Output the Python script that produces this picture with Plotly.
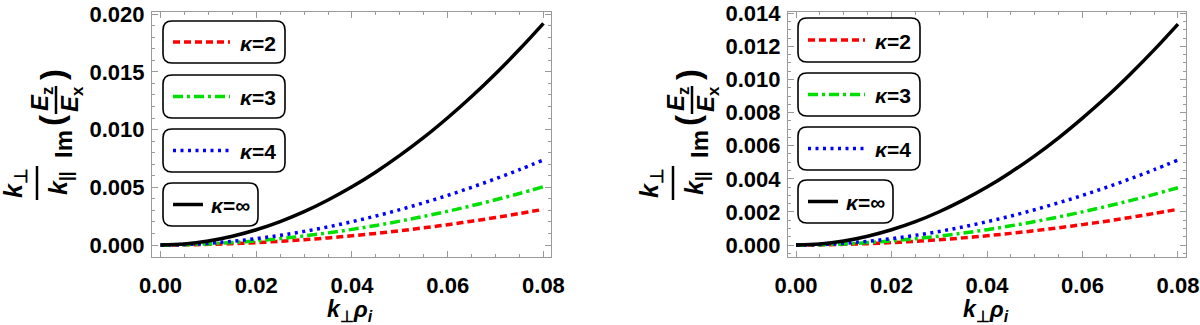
import plotly.graph_objects as go
from plotly.subplots import make_subplots

# ---------------------------------------------------------------------------
# Données
# ---------------------------------------------------------------------------
k_rho = [0.0, 0.005, 0.01, 0.015, 0.02, 0.025, 0.03, 0.035, 0.04,
         0.045, 0.05, 0.055, 0.06, 0.065, 0.07, 0.075, 0.08]

# panneau gauche
left_k2 = [0, 0.000014, 0.000054, 0.000118, 0.000207, 0.00032, 0.000456, 0.000616, 0.0008,
           0.001006, 0.001236, 0.001488, 0.001763, 0.002061, 0.002382, 0.002725, 0.00309]
left_k3 = [0, 0.000026, 0.000097, 0.00021, 0.000362, 0.000554, 0.000783, 0.00105, 0.001353,
           0.001692, 0.002068, 0.002478, 0.002923, 0.003404, 0.003918, 0.004467, 0.00505]
left_k4 = [0, 0.000041, 0.000151, 0.000322, 0.000552, 0.000837, 0.001178, 0.00157, 0.002017,
           0.002513, 0.00306, 0.00366, 0.0043, 0.005, 0.00574, 0.00653, 0.00737]
left_kinf = [0, 0.00009, 0.00035, 0.00076, 0.00132, 0.00203, 0.00289, 0.0039, 0.00504,
             0.00633, 0.00776, 0.00932, 0.01103, 0.01287, 0.01485, 0.01696, 0.01921]

# panneau droit
right_k2 = [0, 0.00001, 0.000038, 0.000082, 0.000145, 0.000224, 0.000319, 0.000431, 0.000559,
            0.000703, 0.000864, 0.00104, 0.001232, 0.001441, 0.001665, 0.001905, 0.00216]
right_k3 = [0, 0.000018, 0.000066, 0.000144, 0.000248, 0.000379, 0.000536, 0.000719, 0.000927,
            0.001159, 0.001417, 0.001697, 0.002002, 0.002332, 0.002684, 0.00306, 0.00346]
right_k4 = [0, 0.000029, 0.000105, 0.000224, 0.000385, 0.000583, 0.000821, 0.001094, 0.001406,
            0.001752, 0.002133, 0.002551, 0.002997, 0.003485, 0.004, 0.00455, 0.00514]
right_kinf = [0, 0.00006, 0.00024, 0.00053, 0.00092, 0.00141, 0.00201, 0.00271, 0.0035,
              0.0044, 0.00539, 0.00648, 0.00767, 0.00894, 0.01032, 0.01179, 0.01335]

legend_labels = ["κ=2", "κ=3", "κ=4", "κ=∞"]

W, H = 1200, 325
FONT = "Liberation Sans"
FRAME = "#9a9a9a"

# styles : (couleur, tirets)
STYLES = [
    ("#ff0000", "7px,4px"),
    ("#00e000", "10px,4px,3px,4px"),
    ("#0000ff", "3px,4.5px"),
    ("#000000", "solid"),
]


def px(x):
    return x / W


def py(y):
    return 1 - y / H


def rounded_box(x0, y0, x1, y1, r=9):
    """Rectangle arrondi en coordonnées pixel -> chemin SVG en coordonnées paper."""
    pts = [
        f"M {px(x0 + r)},{py(y0)}",
        f"L {px(x1 - r)},{py(y0)}",
        f"Q {px(x1)},{py(y0)} {px(x1)},{py(y0 + r)}",
        f"L {px(x1)},{py(y1 - r)}",
        f"Q {px(x1)},{py(y1)} {px(x1 - r)},{py(y1)}",
        f"L {px(x0 + r)},{py(y1)}",
        f"Q {px(x0)},{py(y1)} {px(x0)},{py(y1 - r)}",
        f"L {px(x0)},{py(y0 + r)}",
        f"Q {px(x0)},{py(y0)} {px(x0 + r)},{py(y0)}",
        "Z",
    ]
    return " ".join(pts)


fig = make_subplots(rows=1, cols=2)

panels = [
    (1, [left_k2, left_k3, left_k4, left_kinf]),
    (2, [right_k2, right_k3, right_k4, right_kinf]),
]
for col, series in panels:
    for (color, dash), ys in zip(STYLES, series):
        fig.add_trace(go.Scatter(
            x=k_rho, y=ys, mode="lines", showlegend=False,
            line=dict(color=color, width=3.5, dash=dash, shape="spline"),
        ), row=1, col=col)

# ── Axes (cadre Mathematica) ──────────────────────────────────────────
axis_common = dict(
    showgrid=False, zeroline=False, showline=True, linecolor=FRAME, linewidth=1.2,
    mirror="allticks", ticks="inside", ticklen=6, tickcolor=FRAME, tickwidth=1,
    automargin=False,
    tickfont=dict(family=FONT, size=22, color="black", weight="bold"),
)
fig.update_xaxes(**axis_common, tick0=0, dtick=0.02, tickformat=".2f", ticklabelstandoff=8,
                 minor=dict(ticks="inside", ticklen=3, tickcolor=FRAME, dtick=0.005))
fig.update_xaxes(domain=[px(152), px(551)], range=[-0.00178, 0.08158], row=1, col=1)
fig.update_xaxes(domain=[px(788), px(1186)], range=[-0.00168, 0.08168], row=1, col=2)

fig.update_yaxes(**axis_common, tickformat=".3f", ticklabelstandoff=2, domain=[py(257), py(12)])
fig.update_yaxes(range=[-0.00104, 0.02019], tick0=0, dtick=0.005,
                 minor=dict(ticks="inside", ticklen=3, tickcolor=FRAME, dtick=0.001),
                 row=1, col=1)
fig.update_yaxes(range=[-0.000725, 0.01408], tick0=0, dtick=0.002,
                 minor=dict(ticks="inside", ticklen=3, tickcolor=FRAME, dtick=0.0005),
                 row=1, col=2)

shapes = []
annotations = []


def text(x, y, t, size=20, angle=0):
    annotations.append(dict(
        x=px(x), y=py(y), xref="paper", yref="paper", text=t, showarrow=False,
        textangle=angle, xanchor="center", yanchor="middle",
        font=dict(family=FONT, size=size, color="black", weight="bold"),
    ))


# ── Légendes en boîtes arrondies ──────────────────────────────────────
legend_boxes = {
    0: [(163, 21, 285, 63), (163, 75, 285, 118), (163, 129, 285, 172), (163, 183, 258, 226)],
    1: [(798, 18, 920, 62), (798, 73, 920, 116), (798, 127, 920, 170), (798, 180, 893, 223)],
}
for p, boxes in legend_boxes.items():
    for i, (x0, y0, x1, y1) in enumerate(boxes):
        shapes.append(dict(type="path", path=rounded_box(x0, y0, x1, y1), xref="paper", yref="paper",
                           line=dict(color="black", width=1.6), fillcolor="rgba(0,0,0,0)"))
        color, dash = STYLES[i]
        yc = (y0 + y1) / 2
        if i < 3:
            lx0, lx1, tx = x0 + 10, x0 + 67, x0 + 95
        else:
            lx0, lx1, tx = x0 + 10, x0 + 40, x0 + 67
        shapes.append(dict(type="line", xref="paper", yref="paper",
                           x0=px(lx0), x1=px(lx1), y0=py(yc), y1=py(yc),
                           line=dict(color=color, width=3.5, dash=dash)))
        lab = legend_labels[i].replace("κ", "<i>κ</i>")
        text(tx, yc + 1, lab, size=21)

# ── Titres des axes ───────────────────────────────────────────────────
for x_off in (0, 636):
    # titre x
    text(350 + x_off, 310, "<i>k</i><sub>⊥</sub><i>ρ</i><sub><i>i</i></sub>", size=23)
    # titre y : k⊥/k|| Im(Ez/Ex), tourné
    text(15 + x_off, 183, "<i>k</i><sub>⊥</sub>", size=25, angle=-90)
    text(60 + x_off, 183, "<i>k</i><sub>||</sub>", size=25, angle=-90)
    shapes.append(dict(type="line", xref="paper", yref="paper",
                       x0=px(37 + x_off), x1=px(37 + x_off), y0=py(166), y1=py(200),
                       line=dict(color="black", width=2.5)))
    text(63 + x_off, 144, "Im", size=24, angle=-90)
    text(52 + x_off, 121, "(", size=33, angle=-90)
    text(52 + x_off, 75, ")", size=33, angle=-90)
    text(41 + x_off, 99, "<i>E</i><sub>z</sub>", size=24, angle=-90)
    text(71 + x_off, 99, "<i>E</i><sub>x</sub>", size=24, angle=-90)
    shapes.append(dict(type="line", xref="paper", yref="paper",
                       x0=px(56 + x_off), x1=px(56 + x_off), y0=py(86), y1=py(114),
                       line=dict(color="black", width=2.5)))

fig.update_layout(
    width=W, height=H,
    margin=dict(l=0, r=0, t=0, b=0, autoexpand=False),
    plot_bgcolor="white", paper_bgcolor="white",
    showlegend=False,
    shapes=shapes, annotations=annotations,
)

# la page a une marge de 8 px par défaut : on la supprime
fig.write_html("out.html", config={"displayModeBar": False},
               post_script="document.body.style.margin='0';")
